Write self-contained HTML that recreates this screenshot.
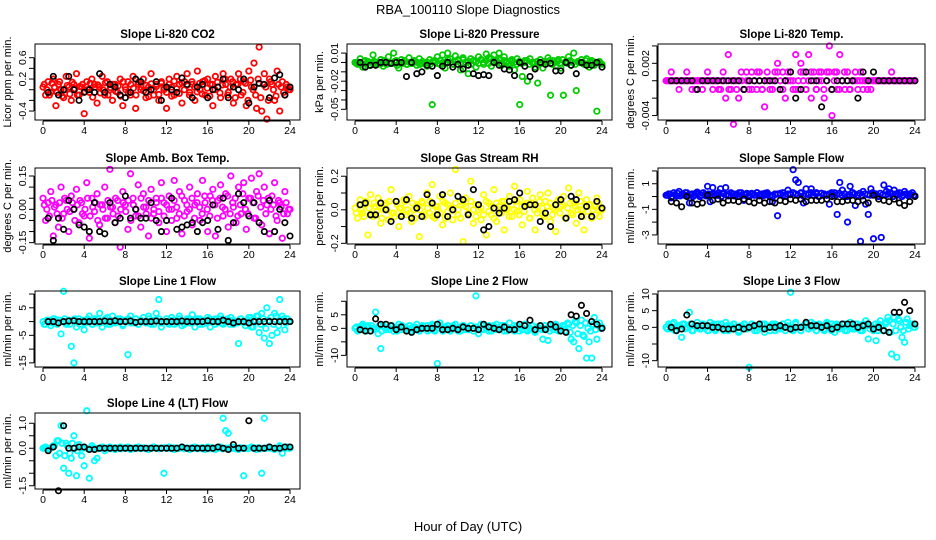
<!DOCTYPE html>
<html><head><meta charset="utf-8"><style>
html,body{margin:0;padding:0;background:#fff;}
svg{display:block;font-family:"Liberation Sans",Arial,sans-serif;}
</style></head><body>
<svg id="chart" width="936" height="540" xmlns="http://www.w3.org/2000/svg">
<rect width="936" height="540" fill="#fff"/>
<text x="468" y="14" text-anchor="middle" font-size="13">RBA_100110  Slope Diagnostics</text>
<text x="468" y="531" text-anchor="middle" font-size="13">Hour of Day (UTC)</text>
</svg>
<script>
const xTicks=[0,4,8,12,16,20,24];
const co2Color=[0.05,-0.1,0.15,-0.05,0.2,-0.3,0.1,0.0,-0.15,0.25,0.05,-0.2,0.1,0.3,-0.1,0.05,-0.45,0.15,-0.05,0.2,0.1,-0.25,0.05,0.25,-0.1,0.15,0.0,-0.2,0.1,-0.05,0.2,-0.3,0.05,0.15,-0.1,0.25,-0.35,0.1,0.0,0.2,-0.15,0.05,0.3,-0.1,0.1,-0.2,0.15,0.0,-0.35,0.2,0.05,-0.1,0.25,0.1,-0.25,0.15,0.3,-0.05,0.1,-0.2,0.35,0.0,0.15,-0.1,0.2,0.1,-0.3,0.25,0.05,-0.15,0.3,0.1,-0.05,0.2,-0.25,0.1,0.3,-0.1,0.15,-0.3,0.35,0.05,0.5,-0.35,0.8,-0.4,0.3,-0.55,0.2,0.1,-0.2,0.35,-0.4,0.15,-0.1,0.05,0.0];
const co2Core=[0.1,0.0,-0.1,0.12,0.05,-0.05,0.15,-0.12,0.0,0.08,-0.08,0.14,0.02,-0.1,0.06,0.1,-0.04,0.0,0.12,-0.14,0.05,0.09,-0.06,0.0,0.13,-0.1,0.04,0.1,-0.03,0.07,-0.12,0.15,0.0,-0.06,0.1,0.03,-0.1,0.14,0.05,-0.02,0.08,-0.13,0.11,0.0,0.06,-0.09,0.12,0.04,-0.05,0.1,-0.12,0.16,0.02,-0.07,0.13,0.0,0.08,-0.1,0.15,0.05,-0.04,0.12,-0.08,0.17,0.03,-0.12,0.1,0.0,0.14,-0.06,0.09,0.2,-0.1,0.05,0.15,-0.15,0.1,0.2,-0.05,0.12,-0.2,0.18,0.0,-0.1,0.2,-0.15,0.1,0.05,-0.2,0.15,0.0,-0.12,0.1,0.05,-0.05,0.1,0.0];
const co2Black=[-0.05,0.25,-0.1,0.0,0.25,0.0,-0.2,-0.05,0.0,-0.05,0.3,-0.05,0.1,0.05,-0.1,-0.15,-0.05,0.2,0.15,-0.05,0.0,0.15,-0.2,0.05,0.0,-0.05,0.22,0.1,-0.15,0.05,0.1,-0.15,0.0,0.05,0.2,-0.15,0.05,0.0,0.2,-0.25,0.05,0.12,0.1,-0.15,0.22,0.28,-0.1,0.05];
const presColor=[0,-0.002,0.004,-0.005,0.002,0.001,-0.003,0.008,0,-0.002,0.003,-0.004,0.001,0.006,-0.001,0.01,0.002,-0.006,0.003,0,-0.002,0.005,-0.001,0.002,-0.003,0.004,-0.001,0,-0.004,0.003,-0.045,0.002,0.006,-0.002,0.008,-0.006,0.01,0.004,-0.002,0.007,0.003,-0.008,0.005,0,-0.012,0.004,0.002,-0.005,0.006,0.003,-0.002,0.009,0.005,-0.004,0.008,0.002,0.01,-0.003,0.006,0.001,-0.004,0.003,-0.008,0.004,-0.045,-0.015,0.002,-0.02,0.004,0,-0.005,-0.022,0.003,-0.006,0.001,0.005,-0.035,0.002,-0.004,0.003,-0.006,-0.035,0.001,0.006,-0.003,0.01,-0.03,0,0.003,-0.002,0.004,-0.005,0.002,-0.003,-0.052,0.001,-0.002];
const presCore=[-0.001,0,-0.002,0.001,-0.001,-0.003,0,0.001,-0.002,0,-0.001,0.002,-0.002,0,-0.001,0.001,-0.003,0,-0.001,0.002,-0.002,0,-0.001,0.001,0,-0.002,0.001,-0.001,0,-0.002,0.001,0,-0.001,0.002,0,-0.001,0.003,0,-0.002,0.001,0.002,-0.001,0.003,0,0.001,-0.002,0.002,0.001,-0.001,0.003,0,0.002,-0.001,0.004,0.001,0,0.003,-0.001,0.002,0,-0.001,0.001,0,-0.002,0.001,-0.001,0,0.002,-0.002,0,-0.001,0.001,-0.002,0,0.001,-0.001,0.002,-0.002,0,0.001,-0.001,0.003,0,-0.001,0.002,0,-0.002,0.001,0,-0.001,0.002,-0.002,0,0.001,-0.001,0,-0.001];
const presBlack=[0,-0.005,-0.003,-0.003,0,0,-0.001,0,0,-0.015,0,-0.012,-0.01,-0.003,-0.004,-0.014,-0.004,0,-0.005,-0.002,-0.007,-0.003,-0.012,-0.014,-0.013,-0.014,0,-0.003,-0.007,-0.008,-0.014,0,-0.004,-0.015,-0.007,0,-0.002,-0.001,-0.009,-0.009,0,-0.003,-0.012,0,-0.003,-0.003,0,-0.005];
const tempColor=[0,0,0.001,0,0,-0.001,0,0,0.001,0,-0.001,0,0,0,-0.001,0,0.001,0,-0.001,0,0,-0.001,0.001,-0.002,0.003,-0.001,-0.005,0,-0.002,0.001,-0.001,0.001,-0.001,0.001,0,-0.001,0.001,-0.001,-0.003,0.001,0,-0.001,0.001,0.002,-0.001,0.001,-0.002,0,0.001,-0.001,0.003,-0.001,0.002,0.001,-0.001,0.003,-0.002,0.001,-0.001,0.001,0,-0.002,0.001,0.004,-0.004,0.001,-0.001,0.003,0,-0.001,0.001,-0.001,0,0.001,-0.001,0.001,-0.001,0,0,-0.001,0,0,0,0,0,0,0,0.001,0,0,0,0,0,0,0,0,0];
const tempCore=[0,0,0,0,0,0,0,0,0,0,0,-0.001,0,0,0,0,0,0,0,0,-0.001,0,0,0,-0.001,0,0,-0.001,0,0,-0.001,0,0,-0.001,0,0.001,0,-0.001,0,0,-0.001,0,0,0.001,0,-0.001,0,0.001,0,0,-0.001,0,0.001,0,-0.001,0,0.001,0,-0.001,0,0.001,-0.001,0,0.001,-0.001,0,0.001,-0.001,0,0.001,0,-0.001,0,0,0,0,0,0,-0.001,0,0,0,0,0,0,0,0,0,0,0,0,0,0,0,0,0,0];
const tempBlack=[0,0,0,0,0,-0.001,0,0,0,0,0,0,0,0,-0.001,0,0,0,0,0,0,-0.001,0,0.001,-0.002,-0.001,0.001,0,0,-0.003,0,-0.001,0,0,0,0,-0.002,0.001,0,0.001,0,0,0,0,0,0,0,0];
const ambColor=[0.05,-0.05,0.03,0.08,-0.12,0.02,-0.08,0.1,-0.02,0.04,-0.1,0.06,0,0.09,-0.06,0.03,-0.03,0.12,-0.13,0.05,-0.01,0.07,-0.07,0.02,0.1,-0.04,0.18,0.01,-0.06,0.04,-0.17,0.08,0.02,-0.09,0.16,0.05,-0.03,0.11,-0.08,0.07,0.01,-0.12,0.09,-0.02,0.05,-0.06,0.12,0.03,-0.1,0.06,0,0.13,-0.04,0.08,-0.11,0.04,-0.01,0.1,-0.07,0.02,0.07,-0.05,0.13,0.03,-0.1,0.06,0.09,-0.12,0.04,0.11,-0.03,0.07,-0.08,0.15,0.01,-0.06,0.1,-0.02,0.12,-0.09,0.05,0.14,-0.04,0.08,0.16,-0.07,0.1,0.02,-0.11,0.06,0.12,-0.05,0.03,-0.13,0.08,-0.02,0.0];
const ambCore=[0.02,0.0,-0.03,0.04,0.01,-0.02,0.03,-0.04,0.05,0.0,-0.01,0.03,-0.05,0.02,0.04,-0.02,0.0,0.05,-0.03,0.01,0.03,-0.05,0.02,0.0,-0.04,0.04,0.01,-0.02,0.05,-0.03,0.0,0.03,-0.01,0.04,-0.05,0.02,0.0,-0.03,0.05,0.01,-0.02,0.04,-0.04,0.0,0.03,-0.01,0.05,-0.03,0.02,0.0,-0.05,0.04,0.01,-0.02,0.06,-0.03,0.02,0.0,0.05,-0.04,0.03,0.01,-0.02,0.06,0.0,-0.03,0.04,0.02,-0.04,0.05,0.01,0.0,0.06,-0.02,0.03,0.05,-0.03,0.02,0.07,0.0,-0.02,0.05,0.03,-0.04,0.06,0.01,0.04,-0.02,0.05,0.0,0.02,-0.03,0.04,0.01,-0.02,0.03,0.0];
const ambBlack=[-0.04,-0.14,-0.04,-0.09,0.04,0,-0.07,-0.08,-0.1,0.03,-0.1,-0.11,0.03,-0.06,-0.04,0.06,-0.04,0,-0.04,-0.04,0.03,-0.05,-0.1,-0.05,0.05,-0.09,-0.08,-0.07,-0.06,-0.1,-0.06,-0.05,0.02,-0.09,0.05,-0.14,-0.06,0.07,0.03,-0.03,0.03,-0.06,-0.1,0.04,-0.1,0.0,-0.06,-0.12];
const rhColor=[0.01,-0.05,0.06,-0.02,0.03,-0.15,0.09,-0.04,0.02,0.07,-0.08,0.0,0.04,-0.06,0.12,-0.02,0.05,-0.1,0.01,0.06,-0.03,0.08,-0.07,0.0,0.03,-0.16,0.05,-0.04,0.1,-0.02,0.15,-0.05,0.02,0.08,-0.09,0.04,-0.01,0.1,-0.06,0.24,-0.03,0.05,-0.19,0.07,-0.02,0.17,-0.08,0.03,0.0,-0.06,0.09,-0.15,0.04,-0.03,0.12,-0.07,0.02,0.05,-0.12,0.0,0.08,-0.04,0.14,-0.01,0.06,-0.09,0.03,0.11,-0.05,0.07,-0.12,0.02,0.09,-0.03,0.05,0.1,-0.07,0.01,-0.13,0.06,0.02,0.08,-0.05,0.13,-0.02,0.04,-0.08,0.1,0.0,-0.12,0.06,0.03,-0.05,0.02,0.07,-0.04,0.0];
const rhCore=[-0.02,0.03,0.0,-0.04,0.05,0.01,-0.03,0.04,-0.01,0.02,-0.05,0.03,0.0,0.05,-0.02,-0.04,0.03,0.01,-0.03,0.05,0.0,-0.02,0.04,-0.05,0.02,0.0,0.04,-0.03,0.01,0.05,-0.04,0.02,0.0,-0.02,0.05,-0.05,0.03,0.01,-0.03,0.04,0.0,-0.05,0.03,0.02,-0.02,0.05,0.0,-0.04,0.03,0.01,-0.03,0.05,-0.01,0.02,-0.05,0.04,0.0,-0.02,0.05,0.01,-0.04,0.03,0.0,0.05,-0.03,0.02,-0.01,0.04,-0.05,0.03,0.0,-0.02,0.05,0.01,-0.04,0.02,0.04,-0.03,0.0,0.05,-0.02,0.03,-0.05,0.01,0.04,-0.03,0.02,0.0,0.05,-0.04,0.02,-0.01,0.03,0.0,-0.03,0.04,0.0];
const rhBlack=[0.03,0.04,-0.03,-0.03,0.04,0.0,-0.07,0.05,-0.04,0.06,-0.05,0.01,-0.04,0.09,0.04,-0.03,0.09,-0.04,0.0,0.08,0.06,-0.03,0.12,0.03,-0.12,-0.1,0.01,-0.02,0.01,0.05,0.06,0.1,0.02,0.03,0.03,-0.07,-0.02,-0.1,0.03,0.06,-0.05,0.08,0.06,-0.04,0.02,-0.04,0.05,0.01];
const sampleColor=[0.1,0.2,-0.1,0.3,0.05,0.4,0.15,0.1,0.3,-0.5,0.2,0.1,0.35,0.0,0.25,0.15,0.8,-0.4,0.7,0.2,0.1,0.6,0.25,0.7,0.05,0.3,0.2,0.1,0.0,0.3,-0.3,0.2,0.1,0.25,0.15,0.3,0.05,0.2,0.1,0.3,0.0,-0.4,0.2,-1.5,0.15,0.3,0.05,0.5,0.2,2.1,1.3,1.1,0.3,-0.5,0.6,0.2,0.6,0.1,0.3,0.0,0.25,0.2,0.1,-0.6,0.2,0.3,-1.4,1.1,0.5,0.2,-2.0,0.8,0.3,-0.7,0.1,-3.5,0.4,-0.6,-1.4,0.6,-3.3,0.2,0.0,-3.2,0.9,0.4,0.6,0.2,0.5,0.1,0.3,0.0,0.4,0.15,0.2,0.3,0.05];
const sampleCore=[0.1,0.2,0.0,0.15,0.25,0.05,0.2,0.3,0.1,0.15,0.0,0.25,0.2,0.1,0.3,0.05,0.2,0.15,0.25,0.1,0.3,0.0,0.2,0.15,0.1,0.25,0.05,0.2,0.3,0.1,0.15,0.25,0.0,0.2,0.1,0.3,0.15,0.05,0.25,0.2,0.1,0.0,0.15,0.2,0.25,0.1,0.05,0.2,0.15,0.3,0.2,0.1,0.25,0.05,0.2,0.15,0.3,0.1,0.2,0.0,0.25,0.15,0.1,0.2,0.3,0.05,0.15,0.25,0.1,0.2,0.0,0.15,0.3,0.2,0.1,0.25,0.05,0.2,0.15,0.1,0.3,0.2,0.05,0.25,0.15,0.1,0.2,0.3,0.0,0.2,0.15,0.25,0.1,0.2,0.05,0.15,0.1];
const sampleBlack=[-0.4,-0.5,-0.8,0,-0.5,-0.6,-0.5,0.1,-0.3,-0.2,-0.5,-0.3,-0.3,-0.4,-0.2,-0.4,-0.5,-0.3,-0.5,-0.4,-0.5,-0.3,-0.4,-0.2,-0.3,-0.2,-0.4,-0.3,-0.3,-0.3,-0.2,0.0,-0.4,-0.4,-0.3,-0.3,-0.4,-0.3,-0.5,0.1,-0.2,-0.3,-0.4,-0.2,-0.5,-0.7,-0.4,0.0];
const line1Color=[0,-1,0.5,-1.5,1,-0.5,0.5,-4.5,11,-1,0.5,-9,-15,-2,1,0,-3,0.5,2,-1,1,-0.5,3,-2,0,1.5,-1,2,-0.5,0,1,-1.5,0.5,-12,2,-0.5,1,-1,0,1.5,-0.5,2,-1,0.5,3,8,-2,0,1,-0.5,1.5,-1,0.5,2,-1.5,0,1,-0.5,2.5,-2,0.5,1,-1,0,1.5,-2,0.5,1,-0.5,2,-1,0,0.5,1.5,-1,0,-8,1,-0.5,0,1.5,-2,0.5,2,-4,3,-6,5,-8,-5,3,-4,8,2,-3,1,0];
const line1Core=[-1,0.5,0,-0.5,1,-1,0.5,0,1,-0.5,-1,0.5,1,0,-1,0.5,-0.5,1,0,-1,0.5,1,-0.5,0,1,-1,0.5,0,-0.5,1,0,-1,0.5,1,-0.5,0,1,-1,0.5,0,-0.5,1,0,-1,0.5,1,-0.5,0,1,-1,0.5,0,-0.5,1,0,-1,0.5,1,-0.5,0,1,-1,0.5,0,-0.5,1,0,-1,0.5,1,-0.5,0,1,-1,0.5,0,-0.5,1,0,-1.5,0.5,1.5,-2,0,2,-1,1,-2.5,0.5,1.5,-1,2,-1.5,0.5,1,-0.5,0];
const line1Black=[0,0,-0.5,0,0.2,0.3,0,0,0,0,0,0.2,0,0.3,0,0,0.2,-0.3,0,0,0,0.2,0,0,0,0,0.2,0,0,0,0,0.3,0,0,0.5,0,-0.5,0,0,-0.5,0,0,0,0,0,0,0,0];
const line2Color=[0,-1,0.5,1.5,-0.5,1,-1,0,6,-2,-7.5,1,-0.5,0.5,1,-1,0,1.5,-0.5,0.5,-1,1,0,-0.5,1.5,-1,0.5,0,1,-0.5,1.5,-1,-13,2,0,-0.5,1,-1,0.5,1.5,0,-1,1,0.5,-0.5,1,0,12,-2,1.5,-0.5,0,1,-1,0.5,1.5,-0.5,0,1,-1,2,0,-1,1,0.5,-0.5,1.5,-1,0,1,-1.5,0.5,1,-4,0,-4.5,1,-0.5,1.5,-1,0,0.5,-1,1.5,-4,-5,2,-7.5,3,-3,-11,-5,-11,4,-4,2,0.5];
const line2Core=[0.5,-0.5,1,0,-1,0.5,1,-0.5,0,1,-1,0.5,0,-0.5,1,0,-1,0.5,1,-0.5,0,1,-1,0.5,0,-0.5,1,0,-1,0.5,1,-0.5,0,1,-1,0.5,0,-0.5,1,0,-1,0.5,1,-0.5,0,1,-1,0.5,0,-0.5,1,0,-1,0.5,1,-0.5,0,1,-1,0.5,0,-0.5,1,0,-1,0.5,1,-0.5,0,1,-1,0.5,0,-0.5,1,0,-1,0.5,1,-0.5,0,1,-1,2,-1.5,1,2.5,-2,1,-2.5,2,0,-1,1.5,-0.5,1,0];
const line2Black=[-0.5,-1,-1,3.5,1.5,1.5,1,-0.5,0.5,-1,-1.5,-0.5,0,0,0,1.5,-0.5,-0.5,0,-0.5,0.5,0,0,-0.5,1.5,0.5,0,-0.5,0.5,-0.5,-0.5,1.5,1,3,-0.5,1,-0.5,1.5,0.5,-1,-1.5,5,4.5,8.5,5.5,2.5,1.5,0];
const line3Color=[0,1,-0.5,1.5,-1,0.5,-3,1,0,4.5,-1,0.5,1.5,-0.5,1,0,-1,1.5,0.5,-1,1,0,-0.5,1.5,-1,0.5,1,0,-1.5,0.5,1,-0.5,-12,1,0,-1,0.5,1,-1.5,0.5,0,1,-1,0.5,-0.5,1,0,1.5,10.5,-1,1.5,0,-1,0.5,1,-0.5,1.5,0,-1,1,0.5,-1,1.5,0,1,-1.5,0.5,0,1,-1,0.5,1.5,-0.5,1,0,-1,1,2,-3.5,0.5,-1,-4,1,0.5,-1,1.5,2,-8,3,-9,2,-3,-4.5,2.5,0.5,1,0];
const line3Core=[-0.5,0.5,1,-1,0,0.5,1,-0.5,0,1,-1,0.5,0,-0.5,1,0,-1,0.5,1,-0.5,0,1,-1,0.5,0,-0.5,1,0,-1,0.5,1,-0.5,0,1,-1,0.5,0,-0.5,1,0,-1,0.5,1,-0.5,0,1,-1,0.5,0,-0.5,1,0,-1,0.5,1,-0.5,0,1,-1,0.5,0,-0.5,1,0,-1,0.5,1,-0.5,0,1,-1,0.5,0,-0.5,1,0,-1,0.5,1,-0.5,0,1,-1,2,-1,1,3,-1.5,1,-1,2.5,0,-1,1.5,-0.5,1,0];
const line3Black=[0,-1,-0.5,3.7,1,0.5,0.5,0.5,0,0,-0.5,-0.5,-0.5,0,-0.5,0,0.5,1,-0.5,0,0,0.5,0,-0.5,0,0,1.5,0.5,0.5,0,0.5,-0.5,0,1,1,1,0,0.5,1,-0.5,0,-1,-1.5,4.5,4.5,7.5,5,1];
const line4Color=[0,0.05,-0.05,0,0.1,-0.3,0.3,0.9,-0.8,0.2,-1.0,-0.4,0.5,-1.1,0.15,-0.3,-0.7,1.5,-1.2,0.1,-0.5,-0.4,0,0.05,-0.1,0,0.05,0,-0.05,0,0.05,0,0,0.05,-0.05,0,0,0.05,0,0,0,-0.05,0,0.05,0,0,0,-1.0,0,0.05,0,-0.05,0,0,0.05,0,0,-0.05,0,0.05,0,0,0,-0.05,0.05,0,0,-0.05,0,0.05,1.2,0.7,0.6,0,0.05,0,-0.05,0,-1.1,0,0,0.05,0,-0.05,0,-1.0,1.2,0,0.05,0,-0.05,0,0.1,-0.2,0,0.05,0];
const line4Core=[0.02,0,-0.02,0.05,0.1,0.3,-0.2,0.2,-0.3,0.1,-0.2,0.2,0,-0.1,0.05,0,0.02,-0.02,0,0.02,0,-0.02,0.02,0,0,0.02,-0.02,0,0.02,0,-0.02,0,0.02,0,0,-0.02,0.02,0,0,0.02,-0.02,0,0,0.02,0,-0.02,0,0.02,0,0,-0.02,0.02,0,0,0.02,-0.02,0,0,0.02,0,-0.02,0,0.02,0,0,-0.02,0.02,0,0,0.02,-0.02,0,0,0.02,0,-0.02,0,0.02,0,0,-0.02,0.02,0,0,0.02,-0.02,0,0,0.02,0,-0.02,0,0.02,0,0,0.02,0];
const line4Black=[-0.1,0.05,-1.7,0.9,0,0,0.05,0.05,-0.05,-0.05,0,0,0,0,0,0,0,0,0,0,0,0,0,0,0,0,0.05,0,0,0,0,0,0,0.05,0,-0.05,0.15,0,0,1.1,0,0,0,0.05,0,0,0.05,0.05];

const panels=[
 {name:'co2',title:'Slope Li-820 CO2',yt:'Licor ppm per min.',col:0,row:0,dom:[-0.568,0.857],ticks:[-0.4,-0.2,0,0.2,0.4,0.6],labels:[[0.6,'0.6'],[0.2,'0.2'],[-0.4,'-0.4']],color:'#ff0000',c:co2Color,k:co2Core,b:co2Black},
 {name:'pressure',title:'Slope Li-820 Pressure',yt:'kPa per min.',col:1,row:0,dom:[-0.0614,0.0197],ticks:[-0.05,-0.04,-0.03,-0.02,-0.01,0,0.01],labels:[[0.01,'0.01'],[-0.02,'-0.02'],[-0.05,'-0.05']],color:'#00cd00',c:presColor,k:presCore,b:presBlack},
 {name:'temp',title:'Slope Li-820 Temp.',yt:'degrees C per min.',col:2,row:0,dom:[-0.00451,0.00422],ticks:[-0.004,-0.002,0,0.002,0.004],labels:[[0.002,'0.002'],[-0.004,'-0.004']],color:'#ff00ff',c:tempColor,k:tempCore,b:tempBlack},
 {name:'amb-box-temp',title:'Slope Amb. Box Temp.',yt:'degrees C per min.',col:0,row:1,dom:[-0.156,0.186],ticks:[-0.15,-0.1,-0.05,0,0.05,0.1,0.15],labels:[[0.15,'0.15'],[0,'0.00'],[-0.15,'-0.15']],color:'#ff00ff',c:ambColor,k:ambCore,b:ambBlack},
 {name:'gas-rh',title:'Slope Gas Stream RH',yt:'percent per min.',col:1,row:1,dom:[-0.204,0.249],ticks:[-0.2,-0.1,0,0.1,0.2],labels:[[0.2,'0.2'],[0,'0.0'],[-0.2,'-0.2']],color:'#ffff00',c:rhColor,k:rhCore,b:rhBlack},
 {name:'sample-flow',title:'Slope Sample Flow',yt:'ml/min per min.',col:2,row:1,dom:[-3.71,2.23],ticks:[-3,-2,-1,0,1,2],labels:[[1,'1'],[-1,'-1'],[-3,'-3']],color:'#0000ff',c:sampleColor,k:sampleCore,b:sampleBlack},
 {name:'line1-flow',title:'Slope Line 1 Flow',yt:'ml/min per min.',col:0,row:2,dom:[-16.5,11.1],ticks:[-15,-10,-5,0,5,10],labels:[[5,'5'],[-5,'-5'],[-15,'-15']],color:'#00ffff',c:line1Color,k:line1Core,b:line1Black},
 {name:'line2-flow',title:'Slope Line 2 Flow',yt:'ml/min per min.',col:1,row:2,dom:[-14.3,13.8],ticks:[-10,-5,0,5,10],labels:[[5,'5'],[0,'0'],[-10,'-10']],color:'#00ffff',c:line2Color,k:line2Core,b:line2Black},
 {name:'line3-flow',title:'Slope Line 3 Flow',yt:'ml/min per min.',col:2,row:2,dom:[-11.9,10.9],ticks:[-10,-5,0,5,10],labels:[[10,'10'],[5,'5'],[0,'0'],[-10,'-10']],color:'#00ffff',c:line3Color,k:line3Core,b:line3Black},
 {name:'line4-flow',title:'Slope Line 4 (LT) Flow',yt:'ml/min per min.',col:0,row:3,dom:[-1.63,1.41],ticks:[-1.5,-1,-0.5,0,0.5,1],labels:[[1,'1.0'],[0,'0.0'],[-1.5,'-1.5']],color:'#00ffff',c:line4Color,k:line4Core,b:line4Black}
];
const colX=[[35,300],[347,612],[658,925]];
const rowY=[44,168,291,413];
const H=76, XMIN=-0.78, XMAX=24.97;
const NS='http://www.w3.org/2000/svg';
const svg=document.getElementById('chart');
function mk(tag,attrs,parent){const e=document.createElementNS(NS,tag);for(const k in attrs)e.setAttribute(k,attrs[k]);(parent||svg).appendChild(e);return e;}
panels.forEach(p=>{
  const [x0,x1]=colX[p.col], y0=rowY[p.row], y1=y0+H;
  const xs=v=>x0+(v-XMIN)/(XMAX-XMIN)*(x1-x0);
  const ys=v=>y1-(v-p.dom[0])/(p.dom[1]-p.dom[0])*H;
  const g=mk('g',{});
  
  
  const t=mk('text',{x:(x0+x1)/2,y:y0-6,'text-anchor':'middle','font-size':11.5,'font-weight':'bold'},g);
  t.textContent=p.title;
  
  
  const yt=mk('text',{x:0,y:0,'text-anchor':'middle','font-size':11,transform:`translate(${x0-24},${(y0+y1)/2}) rotate(-90)`},g);
  yt.textContent=p.yt;
  
  
  const n=p.c.length;
  p.c.forEach((v,i)=>{
    const c=mk('circle',{cx:xs(i*24/(n-1)),cy:ys(v),r:2.7,fill:'none',stroke:p.color,'stroke-width':1.8},g);
    
    
  });
  const nk=p.k.length;
  p.k.forEach((v,i)=>{
    const c=mk('circle',{cx:xs(0.125+i*23.75/(nk-1)),cy:ys(v),r:2.7,fill:'none',stroke:p.color,'stroke-width':1.8},g);
    
    
  });
  const m=p.b.length;
  p.b.forEach((v,i)=>{
    const c=mk('circle',{cx:xs(0.5+i*23.5/(m-1)),cy:ys(v),r:2.7,fill:'none',stroke:'#000','stroke-width':1.7},g);
    
    
  });
  const box=mk('rect',{x:x0,y:y0,width:x1-x0,height:H,fill:'none',stroke:'#000','stroke-width':1},g);
  
  
  mk('line',{x1:xs(0),x2:xs(24),y1:y1+1,y2:y1+1,stroke:'#000'},g);
  xTicks.forEach(v=>{
    mk('line',{x1:xs(v),x2:xs(v),y1:y1+1,y2:y1+5,stroke:'#000'},g);
    const l=mk('text',{x:xs(v),y:y1+14,'text-anchor':'middle','font-size':10.5},g);
    l.textContent=v;
    
    
  });
  mk('line',{x1:x0-1,x2:x0-1,y1:ys(p.ticks[0]),y2:ys(p.ticks[p.ticks.length-1]),stroke:'#000'},g);
  p.ticks.forEach(v=>mk('line',{x1:x0-6,x2:x0-1,y1:ys(v),y2:ys(v),stroke:'#000'},g));
  p.labels.forEach(([v,s])=>{
    const l=mk('text',{x:0,y:0,'text-anchor':'middle','font-size':10.5,transform:`translate(${x0-9},${ys(v)}) rotate(-90)`},g);
    l.textContent=s;
    
    
  });
});
</script>
</body></html>
